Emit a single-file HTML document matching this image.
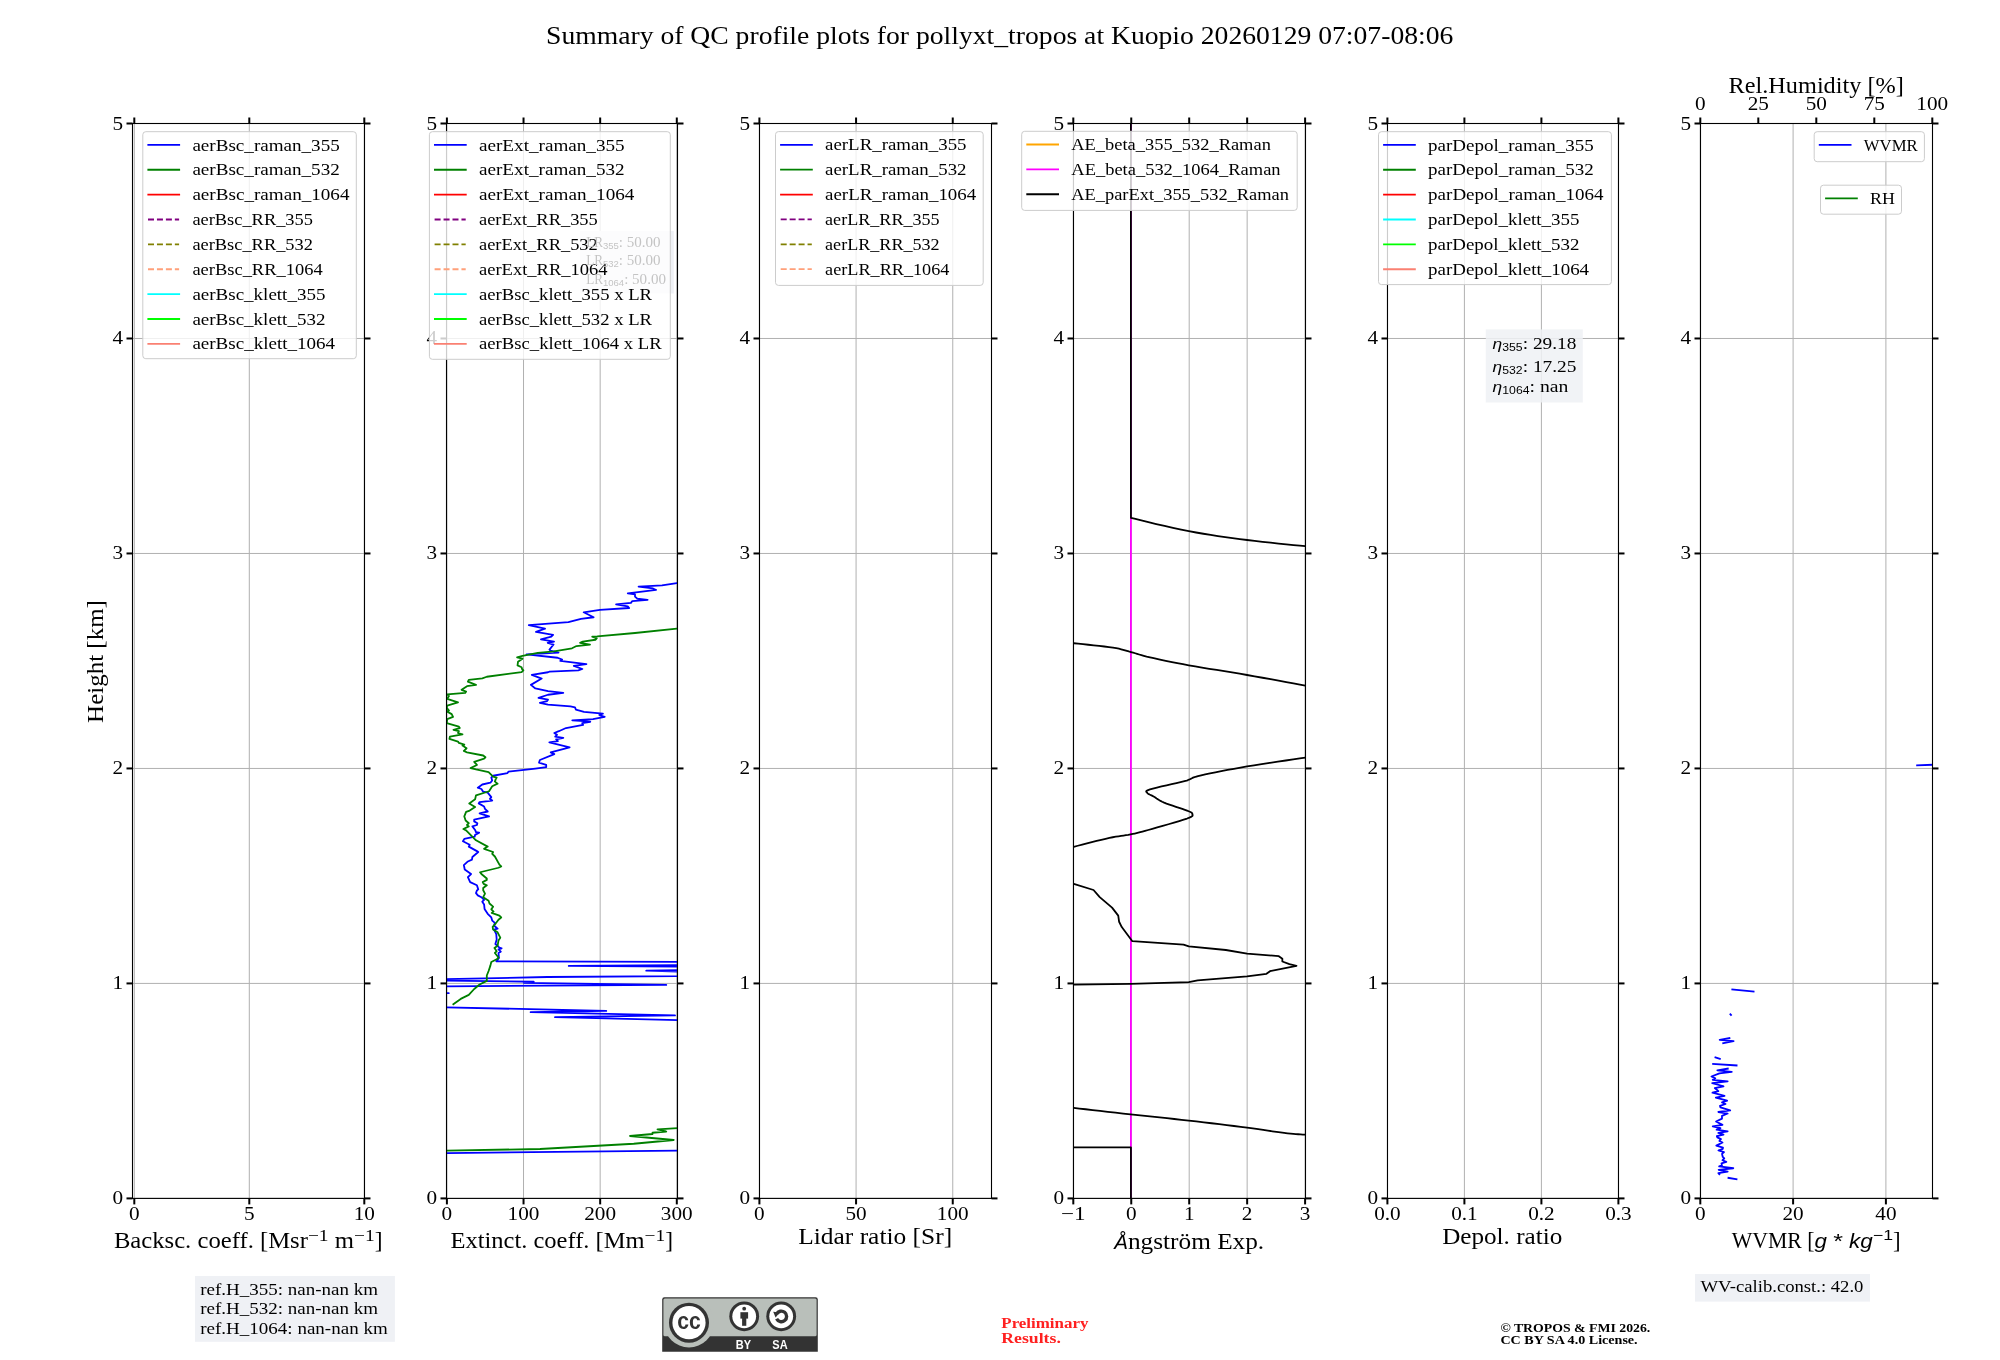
<!DOCTYPE html>
<html><head><meta charset="utf-8"><title>QC profile summary</title><style>html,body{margin:0;padding:0;background:#fff;width:2000px;height:1360px;overflow:hidden}svg{display:block;will-change:transform}</style></head><body>
<svg width="2000" height="1360" viewBox="0 0 2000 1360">
<rect x="0" y="0" width="2000" height="1360" fill="#fff"/>
<defs>
<clipPath id="c0"><rect x="132.50" y="123.50" width="232.00" height="1074.90"/></clipPath>
<clipPath id="c1"><rect x="446.50" y="123.50" width="231.00" height="1074.90"/></clipPath>
<clipPath id="c2"><rect x="759.50" y="123.50" width="232.00" height="1074.90"/></clipPath>
<clipPath id="c3"><rect x="1073.50" y="123.50" width="232.00" height="1074.90"/></clipPath>
<clipPath id="c4"><rect x="1387.50" y="123.50" width="231.00" height="1074.90"/></clipPath>
<clipPath id="c5"><rect x="1700.50" y="123.50" width="232.00" height="1074.90"/></clipPath>
</defs>
<text x="999.70" y="44.00" text-anchor="middle" font-family='"Liberation Serif", serif' font-size="24.89" textLength="907.34" lengthAdjust="spacingAndGlyphs" fill="#000" style="" >Summary of QC profile plots for pollyxt_tropos at Kuopio 20260129 07:07-08:06</text>
<line x1="134.30" y1="123.50" x2="134.30" y2="1198.40" stroke="#b0b0b0" stroke-width="1.0" />
<line x1="249.30" y1="123.50" x2="249.30" y2="1198.40" stroke="#b0b0b0" stroke-width="1.0" />
<line x1="364.30" y1="123.50" x2="364.30" y2="1198.40" stroke="#b0b0b0" stroke-width="1.0" />
<line x1="132.50" y1="1198.40" x2="364.50" y2="1198.40" stroke="#b0b0b0" stroke-width="1.0" />
<line x1="132.50" y1="983.42" x2="364.50" y2="983.42" stroke="#b0b0b0" stroke-width="1.0" />
<line x1="132.50" y1="768.44" x2="364.50" y2="768.44" stroke="#b0b0b0" stroke-width="1.0" />
<line x1="132.50" y1="553.46" x2="364.50" y2="553.46" stroke="#b0b0b0" stroke-width="1.0" />
<line x1="132.50" y1="338.48" x2="364.50" y2="338.48" stroke="#b0b0b0" stroke-width="1.0" />
<line x1="132.50" y1="123.50" x2="364.50" y2="123.50" stroke="#b0b0b0" stroke-width="1.0" />
<line x1="446.90" y1="123.50" x2="446.90" y2="1198.40" stroke="#b0b0b0" stroke-width="1.0" />
<line x1="523.53" y1="123.50" x2="523.53" y2="1198.40" stroke="#b0b0b0" stroke-width="1.0" />
<line x1="600.17" y1="123.50" x2="600.17" y2="1198.40" stroke="#b0b0b0" stroke-width="1.0" />
<line x1="676.80" y1="123.50" x2="676.80" y2="1198.40" stroke="#b0b0b0" stroke-width="1.0" />
<line x1="446.50" y1="1198.40" x2="677.50" y2="1198.40" stroke="#b0b0b0" stroke-width="1.0" />
<line x1="446.50" y1="983.42" x2="677.50" y2="983.42" stroke="#b0b0b0" stroke-width="1.0" />
<line x1="446.50" y1="768.44" x2="677.50" y2="768.44" stroke="#b0b0b0" stroke-width="1.0" />
<line x1="446.50" y1="553.46" x2="677.50" y2="553.46" stroke="#b0b0b0" stroke-width="1.0" />
<line x1="446.50" y1="338.48" x2="677.50" y2="338.48" stroke="#b0b0b0" stroke-width="1.0" />
<line x1="446.50" y1="123.50" x2="677.50" y2="123.50" stroke="#b0b0b0" stroke-width="1.0" />
<line x1="759.40" y1="123.50" x2="759.40" y2="1198.40" stroke="#b0b0b0" stroke-width="1.0" />
<line x1="856.07" y1="123.50" x2="856.07" y2="1198.40" stroke="#b0b0b0" stroke-width="1.0" />
<line x1="952.75" y1="123.50" x2="952.75" y2="1198.40" stroke="#b0b0b0" stroke-width="1.0" />
<line x1="759.50" y1="1198.40" x2="991.50" y2="1198.40" stroke="#b0b0b0" stroke-width="1.0" />
<line x1="759.50" y1="983.42" x2="991.50" y2="983.42" stroke="#b0b0b0" stroke-width="1.0" />
<line x1="759.50" y1="768.44" x2="991.50" y2="768.44" stroke="#b0b0b0" stroke-width="1.0" />
<line x1="759.50" y1="553.46" x2="991.50" y2="553.46" stroke="#b0b0b0" stroke-width="1.0" />
<line x1="759.50" y1="338.48" x2="991.50" y2="338.48" stroke="#b0b0b0" stroke-width="1.0" />
<line x1="759.50" y1="123.50" x2="991.50" y2="123.50" stroke="#b0b0b0" stroke-width="1.0" />
<line x1="1073.30" y1="123.50" x2="1073.30" y2="1198.40" stroke="#b0b0b0" stroke-width="1.0" />
<line x1="1131.25" y1="123.50" x2="1131.25" y2="1198.40" stroke="#b0b0b0" stroke-width="1.0" />
<line x1="1189.20" y1="123.50" x2="1189.20" y2="1198.40" stroke="#b0b0b0" stroke-width="1.0" />
<line x1="1247.15" y1="123.50" x2="1247.15" y2="1198.40" stroke="#b0b0b0" stroke-width="1.0" />
<line x1="1305.10" y1="123.50" x2="1305.10" y2="1198.40" stroke="#b0b0b0" stroke-width="1.0" />
<line x1="1073.50" y1="1198.40" x2="1305.50" y2="1198.40" stroke="#b0b0b0" stroke-width="1.0" />
<line x1="1073.50" y1="983.42" x2="1305.50" y2="983.42" stroke="#b0b0b0" stroke-width="1.0" />
<line x1="1073.50" y1="768.44" x2="1305.50" y2="768.44" stroke="#b0b0b0" stroke-width="1.0" />
<line x1="1073.50" y1="553.46" x2="1305.50" y2="553.46" stroke="#b0b0b0" stroke-width="1.0" />
<line x1="1073.50" y1="338.48" x2="1305.50" y2="338.48" stroke="#b0b0b0" stroke-width="1.0" />
<line x1="1073.50" y1="123.50" x2="1305.50" y2="123.50" stroke="#b0b0b0" stroke-width="1.0" />
<line x1="1387.40" y1="123.50" x2="1387.40" y2="1198.40" stroke="#b0b0b0" stroke-width="1.0" />
<line x1="1464.40" y1="123.50" x2="1464.40" y2="1198.40" stroke="#b0b0b0" stroke-width="1.0" />
<line x1="1541.40" y1="123.50" x2="1541.40" y2="1198.40" stroke="#b0b0b0" stroke-width="1.0" />
<line x1="1618.40" y1="123.50" x2="1618.40" y2="1198.40" stroke="#b0b0b0" stroke-width="1.0" />
<line x1="1387.50" y1="1198.40" x2="1618.50" y2="1198.40" stroke="#b0b0b0" stroke-width="1.0" />
<line x1="1387.50" y1="983.42" x2="1618.50" y2="983.42" stroke="#b0b0b0" stroke-width="1.0" />
<line x1="1387.50" y1="768.44" x2="1618.50" y2="768.44" stroke="#b0b0b0" stroke-width="1.0" />
<line x1="1387.50" y1="553.46" x2="1618.50" y2="553.46" stroke="#b0b0b0" stroke-width="1.0" />
<line x1="1387.50" y1="338.48" x2="1618.50" y2="338.48" stroke="#b0b0b0" stroke-width="1.0" />
<line x1="1387.50" y1="123.50" x2="1618.50" y2="123.50" stroke="#b0b0b0" stroke-width="1.0" />
<line x1="1700.30" y1="123.50" x2="1700.30" y2="1198.40" stroke="#b0b0b0" stroke-width="1.0" />
<line x1="1793.10" y1="123.50" x2="1793.10" y2="1198.40" stroke="#b0b0b0" stroke-width="1.0" />
<line x1="1885.90" y1="123.50" x2="1885.90" y2="1198.40" stroke="#b0b0b0" stroke-width="1.0" />
<line x1="1700.50" y1="1198.40" x2="1932.50" y2="1198.40" stroke="#b0b0b0" stroke-width="1.0" />
<line x1="1700.50" y1="983.42" x2="1932.50" y2="983.42" stroke="#b0b0b0" stroke-width="1.0" />
<line x1="1700.50" y1="768.44" x2="1932.50" y2="768.44" stroke="#b0b0b0" stroke-width="1.0" />
<line x1="1700.50" y1="553.46" x2="1932.50" y2="553.46" stroke="#b0b0b0" stroke-width="1.0" />
<line x1="1700.50" y1="338.48" x2="1932.50" y2="338.48" stroke="#b0b0b0" stroke-width="1.0" />
<line x1="1700.50" y1="123.50" x2="1932.50" y2="123.50" stroke="#b0b0b0" stroke-width="1.0" />
<!--DATA-->
<g clip-path="url(#c1)">
<polyline points="707.00,580.80 676.85,583.05 662.00,585.30 638.60,586.65 653.00,588.45 656.15,589.98 627.80,593.40 635.00,594.30 635.00,596.55 637.25,598.62 647.60,599.88 632.30,601.05 630.95,602.85 616.10,604.38 627.80,606.45 629.15,607.98 599.90,609.78 583.70,612.30 593.60,617.25 581.00,618.87 568.40,622.20 528.80,625.08 545.00,628.68 536.00,631.92 553.10,634.80 551.30,636.60 540.95,639.30 554.00,641.55 547.70,642.90 553.55,644.52 549.50,649.65 550.40,650.55 558.50,652.62 526.55,654.42 557.60,657.75 562.10,659.55 560.30,660.90 586.40,664.05 573.80,665.85 582.35,669.00 578.30,670.35 549.50,671.70 548.00,672.25 531.80,674.95 541.70,678.55 530.90,684.85 535.40,688.45 548.00,691.15 563.30,692.95 548.00,694.75 538.55,697.90 548.00,699.70 547.10,701.05 539.90,702.85 548.00,704.65 570.50,706.45 575.00,707.35 575.90,709.60 584.00,711.85 602.90,713.65 599.30,715.00 604.70,716.80 593.00,719.05 572.30,720.40 584.00,721.12 590.30,721.75 582.20,723.10 583.10,724.90 566.00,728.05 558.80,731.20 554.30,733.00 557.00,734.80 555.20,736.60 563.30,737.95 556.10,739.30 557.90,741.10 549.35,742.45 569.60,747.40 550.70,752.35 554.30,754.15 539.90,760.00 539.00,762.70 546.20,764.95 546.20,767.20 535.40,768.55 508.40,771.70 507.50,773.05 493.10,775.75 491.30,777.55 492.20,780.45 490.40,782.70 482.30,784.50 477.80,787.65 481.40,789.00 483.20,791.70 487.70,792.60 491.30,797.10 489.95,798.90 492.20,800.52 479.60,802.05 478.70,803.40 484.10,806.55 485.00,808.80 487.70,811.50 479.60,813.30 489.05,816.45 474.20,819.60 474.20,821.40 477.35,823.20 476.90,825.00 472.40,826.35 475.10,829.95 476.00,832.20 479.15,832.65 475.10,834.90 474.65,836.70 464.30,838.95 462.95,841.20 469.70,844.80 468.80,846.60 476.90,851.10 478.25,852.00 472.40,856.95 471.95,859.65 467.90,861.45 463.85,865.05 464.75,869.55 471.05,874.05 467.90,877.20 470.15,882.15 476.90,885.30 478.25,889.35 476.90,890.45 476.00,893.15 477.80,895.40 481.40,897.20 484.10,899.90 482.30,901.70 484.10,904.40 484.55,908.90 487.70,913.85 491.30,917.45 492.20,920.60 494.90,922.85 494.00,925.55 497.60,928.70 494.00,929.60 496.25,934.10 496.70,939.50 495.35,944.00 499.40,947.60 501.65,948.32 498.50,949.40 500.75,951.65 498.50,953.00 498.95,957.95 496.70,961.10 496.25,961.25 702.50,961.88 702.50,965.00 568.75,965.88 702.50,966.88 702.50,970.00 646.25,970.62 702.50,972.50 702.50,975.38 677.50,976.12 547.50,977.00 427.50,979.62 427.50,980.50 533.75,981.75 523.75,982.88 666.25,984.88 427.50,986.50 427.50,992.50 448.75,993.12 427.50,993.75 427.50,1006.88 606.25,1010.88 530.62,1012.12 675.00,1015.38 555.00,1017.12 702.50,1020.62" fill="none" stroke="#0000ff" stroke-width="1.8" stroke-linejoin="round" stroke-linecap="butt" />
<polyline points="702.50,1150.38 677.50,1150.62 446.88,1153.12 427.50,1153.25" fill="none" stroke="#0000ff" stroke-width="1.8" stroke-linejoin="round" stroke-linecap="butt" />
<polyline points="707.00,626.70 676.85,628.68 635.00,633.00 597.20,636.42 592.25,636.60 596.75,638.40 595.40,639.75 582.80,641.55 580.10,642.90 590.00,644.70 576.50,646.05 572.00,648.30 554.00,651.45 537.80,652.80 522.50,655.95 517.10,657.30 522.50,658.65 518.00,661.80 517.55,665.40 521.60,667.20 522.05,669.00 523.40,670.35 521.60,672.15 486.80,676.75 482.30,678.28 468.80,679.90 467.90,681.70 476.00,684.85 467.00,686.20 461.60,689.80 466.10,691.60 465.20,692.95 447.20,694.30 449.00,696.10 447.20,698.80 458.00,702.40 447.20,705.55 446.75,707.80 449.00,710.50 446.75,711.40 451.70,714.10 453.05,716.80 447.20,719.05 446.75,723.10 458.90,726.70 459.80,728.05 453.50,729.85 458.90,731.20 458.00,733.00 462.50,734.35 449.90,736.60 449.45,738.85 458.00,741.55 458.90,742.90 464.30,744.70 462.50,745.60 466.55,748.30 463.85,751.00 467.00,752.35 483.20,755.50 485.45,757.30 484.10,758.65 474.20,761.80 476.90,764.95 470.60,768.10 476.00,769.45 488.60,772.15 493.10,776.65 496.70,777.55 495.80,778.90 494.90,781.60 497.60,783.60 492.20,786.30 489.05,791.25 476.00,795.30 475.10,799.35 469.25,803.40 475.10,807.00 469.70,810.60 466.10,811.95 464.30,816.45 465.65,820.50 468.80,823.20 467.00,825.00 468.80,826.35 463.40,829.05 466.10,830.40 476.00,840.30 487.70,846.60 484.10,848.85 493.10,852.00 492.20,853.80 494.90,856.50 499.40,864.60 501.20,866.40 498.50,867.75 480.05,872.25 481.40,874.05 486.80,878.55 486.80,879.90 482.75,882.15 483.65,883.95 486.80,885.30 483.20,888.00 483.20,890.25 485.00,893.60 483.20,897.20 488.60,900.80 489.50,903.50 493.10,906.65 491.30,909.35 493.55,911.60 491.75,912.95 499.40,915.65 501.20,917.45 498.50,919.70 495.80,923.30 492.65,926.90 493.10,929.60 497.60,932.30 500.30,937.70 498.50,940.40 497.60,945.80 494.45,948.05 496.70,951.20 494.90,953.00 498.50,957.50 496.70,959.30 491.30,962.00 490.40,965.60 488.60,971.00 486.80,975.50 486.80,980.90 479.60,984.50 474.20,989.00 468.80,994.85 460.70,998.90 452.60,1004.75" fill="none" stroke="#008000" stroke-width="1.8" stroke-linejoin="round" stroke-linecap="butt" />
<polyline points="702.50,1127.88 677.50,1128.12 657.50,1129.38 666.25,1131.50 652.50,1132.75 652.50,1134.00 630.00,1136.00 673.75,1140.00 633.75,1143.75 540.00,1149.00 446.88,1150.62 427.50,1150.75" fill="none" stroke="#008000" stroke-width="1.8" stroke-linejoin="round" stroke-linecap="butt" />
</g>
<g clip-path="url(#c3)">
<line x1="1130.90" y1="123.50" x2="1130.90" y2="1198.40" stroke="#ff00ff" stroke-width="1.8" />
<polyline points="1130.90,100.00 1130.94,517.94 1135.40,518.99 1141.33,520.42 1148.39,522.13 1156.24,524.01 1164.55,525.95 1172.97,527.87 1181.18,529.64 1188.82,531.18 1196.09,532.51 1203.36,533.75 1210.64,534.92 1217.92,536.03 1225.21,537.08 1232.49,538.08 1239.78,539.05 1247.06,540.00 1254.60,540.93 1262.53,541.84 1270.60,542.72 1278.60,543.55 1286.30,544.33 1293.47,545.03 1299.87,545.65 1305.29,546.18 1309.71,546.59 1313.33,546.90 1316.27,547.12 1318.64,547.27 1320.55,547.37 1322.13,547.45 1323.47,547.51 1324.71,547.59" fill="none" stroke="#000000" stroke-width="1.8" stroke-linejoin="round" stroke-linecap="butt" />
<polyline points="1049.41,640.94 1051.19,641.10 1053.44,641.30 1056.11,641.54 1059.14,641.81 1062.48,642.12 1066.06,642.46 1069.84,642.83 1073.76,643.24 1078.10,643.69 1083.01,644.19 1088.30,644.73 1093.75,645.31 1099.15,645.90 1104.29,646.49 1108.96,647.08 1112.94,647.65 1116.20,648.19 1118.91,648.73 1121.20,649.26 1123.20,649.80 1125.04,650.34 1126.86,650.89 1128.79,651.47 1130.94,652.06 1133.14,652.66 1135.17,653.26 1137.14,653.86 1139.17,654.49 1141.36,655.13 1143.82,655.82 1146.66,656.56 1150.00,657.35 1153.77,658.21 1157.86,659.11 1162.26,660.06 1166.96,661.05 1171.97,662.07 1177.29,663.12 1182.91,664.20 1188.82,665.29 1195.17,666.42 1202.02,667.58 1209.24,668.77 1216.73,669.98 1224.37,671.22 1232.05,672.47 1239.65,673.73 1247.06,675.00 1254.60,676.33 1262.53,677.75 1270.60,679.22 1278.60,680.68 1286.30,682.10 1293.47,683.42 1299.87,684.60 1305.29,685.59 1309.71,686.39 1313.33,687.05 1316.27,687.58 1318.64,688.01 1320.55,688.36 1322.13,688.65 1323.47,688.89 1324.71,689.12" fill="none" stroke="#000000" stroke-width="1.8" stroke-linejoin="round" stroke-linecap="butt" />
<polyline points="1324.71,755.00 1323.47,755.16 1322.13,755.33 1320.55,755.53 1318.64,755.77 1316.27,756.09 1313.33,756.49 1309.71,757.00 1305.29,757.65 1299.79,758.45 1293.18,759.42 1285.76,760.50 1277.83,761.67 1269.70,762.89 1261.66,764.12 1254.01,765.33 1247.06,766.47 1240.50,767.60 1233.93,768.78 1227.47,769.97 1221.25,771.16 1215.38,772.31 1210.00,773.40 1205.22,774.40 1201.18,775.29 1197.98,776.07 1195.57,776.77 1193.78,777.39 1192.46,777.94 1191.47,778.44 1190.63,778.89 1189.80,779.31 1188.82,779.71 1188.02,780.01 1187.67,780.19 1187.56,780.29 1187.50,780.37 1187.27,780.47 1186.67,780.66 1185.49,780.97 1183.53,781.47 1180.48,782.20 1176.41,783.13 1171.67,784.19 1166.60,785.33 1161.55,786.49 1156.87,787.59 1152.91,788.59 1150.00,789.41 1148.13,790.06 1146.96,790.60 1146.36,791.06 1146.19,791.45 1146.34,791.81 1146.67,792.16 1147.05,792.53 1147.35,792.94 1147.67,793.36 1148.17,793.76 1148.83,794.15 1149.61,794.54 1150.50,794.95 1151.47,795.40 1152.49,795.90 1153.53,796.47 1154.56,797.10 1155.58,797.79 1156.63,798.52 1157.78,799.28 1159.05,800.09 1160.50,800.92 1162.17,801.77 1164.12,802.65 1166.51,803.59 1169.40,804.61 1172.59,805.69 1175.92,806.78 1179.21,807.86 1182.27,808.87 1184.95,809.79 1187.06,810.59 1188.64,811.23 1189.87,811.76 1190.80,812.20 1191.47,812.57 1191.92,812.92 1192.19,813.28 1192.32,813.66 1192.35,814.12 1192.43,814.58 1192.56,814.99 1192.62,815.40 1192.46,815.83 1191.97,816.32 1190.99,816.91 1189.40,817.63 1187.06,818.53 1183.67,819.67 1179.21,821.07 1174.03,822.62 1168.42,824.26 1162.72,825.91 1157.24,827.46 1152.30,828.86 1148.24,830.00 1145.04,830.90 1142.42,831.62 1140.22,832.21 1138.31,832.70 1136.53,833.13 1134.75,833.54 1132.82,833.95 1130.59,834.41 1128.21,834.86 1125.88,835.23 1123.54,835.57 1121.12,835.90 1118.57,836.27 1115.81,836.71 1112.78,837.25 1109.41,837.94 1105.57,838.81 1101.25,839.84 1096.61,840.98 1091.79,842.19 1086.94,843.42 1082.22,844.62 1077.78,845.75 1073.76,846.76 1070.01,847.71 1066.31,848.64 1062.73,849.55 1059.36,850.40 1056.26,851.19 1053.52,851.89 1051.21,852.48 1049.41,852.94" fill="none" stroke="#000000" stroke-width="1.8" stroke-linejoin="round" stroke-linecap="butt" />
<polyline points="1049.41,877.65 1073.76,883.82 1093.53,890.00 1099.71,897.06 1112.06,907.65 1118.24,915.59 1119.12,921.76 1121.76,927.06 1132.35,941.18 1183.53,944.71 1188.82,946.47 1225.88,950.00 1247.06,953.53 1278.82,956.18 1282.35,958.82 1282.35,961.47 1289.41,964.12 1296.47,965.88 1270.00,971.18 1266.47,973.82 1247.06,976.47 1197.65,980.29 1188.82,982.06 1130.59,983.82 1073.76,984.71 1049.41,985.06" fill="none" stroke="#000000" stroke-width="1.8" stroke-linejoin="round" stroke-linecap="butt" />
<polyline points="1049.41,1105.06 1051.07,1105.25 1053.03,1105.48 1055.33,1105.75 1058.04,1106.06 1061.18,1106.43 1064.82,1106.85 1069.00,1107.33 1073.76,1107.88 1079.30,1108.52 1085.65,1109.26 1092.63,1110.07 1100.06,1110.94 1107.75,1111.83 1115.52,1112.72 1123.20,1113.59 1130.59,1114.41 1137.80,1115.19 1145.05,1115.96 1152.32,1116.72 1159.62,1117.47 1166.92,1118.22 1174.23,1118.99 1181.53,1119.78 1188.82,1120.59 1196.25,1121.44 1203.88,1122.33 1211.59,1123.25 1219.26,1124.17 1226.77,1125.09 1233.99,1125.99 1240.79,1126.84 1247.06,1127.65 1252.81,1128.42 1258.18,1129.18 1263.20,1129.92 1267.90,1130.62 1272.31,1131.29 1276.47,1131.91 1280.39,1132.46 1284.12,1132.94 1287.54,1133.33 1290.57,1133.64 1293.30,1133.88 1295.81,1134.07 1298.18,1134.23 1300.50,1134.37 1302.84,1134.53 1305.29,1134.71 1307.94,1134.91 1310.73,1135.12 1313.56,1135.32 1316.32,1135.52 1318.93,1135.71 1321.26,1135.87 1323.22,1136.01 1324.71,1136.12" fill="none" stroke="#000000" stroke-width="1.8" stroke-linejoin="round" stroke-linecap="butt" />
<polyline points="1049.41,1147.41 1130.94,1147.41 1130.94,1207.06" fill="none" stroke="#000000" stroke-width="1.8" stroke-linejoin="round" stroke-linecap="butt" />
</g>
<g clip-path="url(#c5)">
<polyline points="1731.40,989.40 1754.50,991.60" fill="none" stroke="#0000ff" stroke-width="1.8" stroke-linejoin="round" stroke-linecap="butt" />
<polyline points="1729.80,1013.60 1731.60,1015.70" fill="none" stroke="#0000ff" stroke-width="1.8" stroke-linejoin="round" stroke-linecap="butt" />
<polyline points="1730.30,1038.00 1719.70,1039.90 1733.60,1041.20 1722.30,1043.30" fill="none" stroke="#0000ff" stroke-width="1.8" stroke-linejoin="round" stroke-linecap="butt" />
<polyline points="1714.60,1057.20 1720.70,1059.20" fill="none" stroke="#0000ff" stroke-width="1.8" stroke-linejoin="round" stroke-linecap="butt" />
<polyline points="1712.20,1063.90 1737.50,1065.50" fill="none" stroke="#0000ff" stroke-width="1.8" stroke-linejoin="round" stroke-linecap="butt" />
<polyline points="1728.68,1068.49 1717.35,1070.29 1731.76,1071.84 1719.41,1073.38 1711.43,1076.47 1715.29,1078.27 1712.72,1079.82 1727.65,1081.36 1712.21,1083.16 1723.53,1086.25 1714.78,1088.05 1718.38,1091.14 1712.46,1092.68 1724.56,1095.77 1715.81,1097.57 1727.13,1100.66 1721.99,1102.46 1725.59,1104.01 1719.93,1105.81 1720.44,1107.35 1730.22,1110.44 1718.38,1111.99 1727.65,1113.53 1721.99,1115.85 1721.99,1118.68 1716.07,1121.51 1722.50,1124.85 1712.72,1126.40 1720.44,1128.20 1719.93,1128.60 1716.58,1129.63 1727.65,1131.43 1718.38,1132.98 1723.53,1134.52 1716.84,1136.07 1717.35,1137.35 1720.96,1139.15 1719.41,1140.96 1722.50,1142.50 1716.32,1145.59 1723.01,1147.65 1722.76,1148.93 1718.38,1150.48 1724.04,1152.02 1721.99,1153.82 1722.76,1156.91 1724.30,1158.46 1722.50,1160.26 1726.36,1161.80 1721.47,1163.35 1721.99,1165.40 1719.15,1166.43 1733.31,1168.24 1718.64,1169.78 1727.65,1171.58 1718.38,1173.12 1719.93,1174.93" fill="none" stroke="#0000ff" stroke-width="1.8" stroke-linejoin="round" stroke-linecap="butt" />
<polyline points="1727.60,1177.75 1737.40,1179.30" fill="none" stroke="#0000ff" stroke-width="1.8" stroke-linejoin="round" stroke-linecap="butt" />
<polyline points="1916.20,765.30 1940.00,764.50" fill="none" stroke="#0000ff" stroke-width="1.8" stroke-linejoin="round" stroke-linecap="butt" />
</g>
<rect x="132.50" y="123.50" width="232.00" height="1074.90" fill="none" stroke="#000" stroke-width="1.1"/>
<line x1="126.50" y1="1198.40" x2="132.50" y2="1198.40" stroke="#000" stroke-width="2.0" />
<line x1="364.50" y1="1198.40" x2="370.50" y2="1198.40" stroke="#000" stroke-width="2.0" />
<line x1="126.50" y1="983.42" x2="132.50" y2="983.42" stroke="#000" stroke-width="2.0" />
<line x1="364.50" y1="983.42" x2="370.50" y2="983.42" stroke="#000" stroke-width="2.0" />
<line x1="126.50" y1="768.44" x2="132.50" y2="768.44" stroke="#000" stroke-width="2.0" />
<line x1="364.50" y1="768.44" x2="370.50" y2="768.44" stroke="#000" stroke-width="2.0" />
<line x1="126.50" y1="553.46" x2="132.50" y2="553.46" stroke="#000" stroke-width="2.0" />
<line x1="364.50" y1="553.46" x2="370.50" y2="553.46" stroke="#000" stroke-width="2.0" />
<line x1="126.50" y1="338.48" x2="132.50" y2="338.48" stroke="#000" stroke-width="2.0" />
<line x1="364.50" y1="338.48" x2="370.50" y2="338.48" stroke="#000" stroke-width="2.0" />
<line x1="126.50" y1="123.50" x2="132.50" y2="123.50" stroke="#000" stroke-width="2.0" />
<line x1="364.50" y1="123.50" x2="370.50" y2="123.50" stroke="#000" stroke-width="2.0" />
<line x1="134.30" y1="1198.40" x2="134.30" y2="1204.40" stroke="#000" stroke-width="2.0" />
<line x1="134.30" y1="117.50" x2="134.30" y2="123.50" stroke="#000" stroke-width="2.0" />
<line x1="249.30" y1="1198.40" x2="249.30" y2="1204.40" stroke="#000" stroke-width="2.0" />
<line x1="249.30" y1="117.50" x2="249.30" y2="123.50" stroke="#000" stroke-width="2.0" />
<line x1="364.30" y1="1198.40" x2="364.30" y2="1204.40" stroke="#000" stroke-width="2.0" />
<line x1="364.30" y1="117.50" x2="364.30" y2="123.50" stroke="#000" stroke-width="2.0" />
<text x="123.20" y="1204.40" text-anchor="end" font-family='"Liberation Serif", serif' font-size="18.67" textLength="10.61" lengthAdjust="spacingAndGlyphs" fill="#000" style="" >0</text>
<text x="123.20" y="989.42" text-anchor="end" font-family='"Liberation Serif", serif' font-size="18.67" textLength="10.61" lengthAdjust="spacingAndGlyphs" fill="#000" style="" >1</text>
<text x="123.20" y="774.44" text-anchor="end" font-family='"Liberation Serif", serif' font-size="18.67" textLength="10.61" lengthAdjust="spacingAndGlyphs" fill="#000" style="" >2</text>
<text x="123.20" y="559.46" text-anchor="end" font-family='"Liberation Serif", serif' font-size="18.67" textLength="10.61" lengthAdjust="spacingAndGlyphs" fill="#000" style="" >3</text>
<text x="123.20" y="344.48" text-anchor="end" font-family='"Liberation Serif", serif' font-size="18.67" textLength="10.61" lengthAdjust="spacingAndGlyphs" fill="#000" style="" >4</text>
<text x="123.20" y="129.50" text-anchor="end" font-family='"Liberation Serif", serif' font-size="18.67" textLength="10.61" lengthAdjust="spacingAndGlyphs" fill="#000" style="" >5</text>
<text x="134.30" y="1219.60" text-anchor="middle" font-family='"Liberation Serif", serif' font-size="18.67" textLength="10.61" lengthAdjust="spacingAndGlyphs" fill="#000" style="" >0</text>
<text x="249.30" y="1219.60" text-anchor="middle" font-family='"Liberation Serif", serif' font-size="18.67" textLength="10.61" lengthAdjust="spacingAndGlyphs" fill="#000" style="" >5</text>
<text x="364.30" y="1219.60" text-anchor="middle" font-family='"Liberation Serif", serif' font-size="18.67" textLength="21.21" lengthAdjust="spacingAndGlyphs" fill="#000" style="" >10</text>
<rect x="446.50" y="123.50" width="231.00" height="1074.90" fill="none" stroke="#000" stroke-width="1.1"/>
<line x1="440.50" y1="1198.40" x2="446.50" y2="1198.40" stroke="#000" stroke-width="2.0" />
<line x1="677.50" y1="1198.40" x2="683.50" y2="1198.40" stroke="#000" stroke-width="2.0" />
<line x1="440.50" y1="983.42" x2="446.50" y2="983.42" stroke="#000" stroke-width="2.0" />
<line x1="677.50" y1="983.42" x2="683.50" y2="983.42" stroke="#000" stroke-width="2.0" />
<line x1="440.50" y1="768.44" x2="446.50" y2="768.44" stroke="#000" stroke-width="2.0" />
<line x1="677.50" y1="768.44" x2="683.50" y2="768.44" stroke="#000" stroke-width="2.0" />
<line x1="440.50" y1="553.46" x2="446.50" y2="553.46" stroke="#000" stroke-width="2.0" />
<line x1="677.50" y1="553.46" x2="683.50" y2="553.46" stroke="#000" stroke-width="2.0" />
<line x1="440.50" y1="338.48" x2="446.50" y2="338.48" stroke="#000" stroke-width="2.0" />
<line x1="677.50" y1="338.48" x2="683.50" y2="338.48" stroke="#000" stroke-width="2.0" />
<line x1="440.50" y1="123.50" x2="446.50" y2="123.50" stroke="#000" stroke-width="2.0" />
<line x1="677.50" y1="123.50" x2="683.50" y2="123.50" stroke="#000" stroke-width="2.0" />
<line x1="446.90" y1="1198.40" x2="446.90" y2="1204.40" stroke="#000" stroke-width="2.0" />
<line x1="446.90" y1="117.50" x2="446.90" y2="123.50" stroke="#000" stroke-width="2.0" />
<line x1="523.53" y1="1198.40" x2="523.53" y2="1204.40" stroke="#000" stroke-width="2.0" />
<line x1="523.53" y1="117.50" x2="523.53" y2="123.50" stroke="#000" stroke-width="2.0" />
<line x1="600.17" y1="1198.40" x2="600.17" y2="1204.40" stroke="#000" stroke-width="2.0" />
<line x1="600.17" y1="117.50" x2="600.17" y2="123.50" stroke="#000" stroke-width="2.0" />
<line x1="676.80" y1="1198.40" x2="676.80" y2="1204.40" stroke="#000" stroke-width="2.0" />
<line x1="676.80" y1="117.50" x2="676.80" y2="123.50" stroke="#000" stroke-width="2.0" />
<text x="437.20" y="1204.40" text-anchor="end" font-family='"Liberation Serif", serif' font-size="18.67" textLength="10.61" lengthAdjust="spacingAndGlyphs" fill="#000" style="" >0</text>
<text x="437.20" y="989.42" text-anchor="end" font-family='"Liberation Serif", serif' font-size="18.67" textLength="10.61" lengthAdjust="spacingAndGlyphs" fill="#000" style="" >1</text>
<text x="437.20" y="774.44" text-anchor="end" font-family='"Liberation Serif", serif' font-size="18.67" textLength="10.61" lengthAdjust="spacingAndGlyphs" fill="#000" style="" >2</text>
<text x="437.20" y="559.46" text-anchor="end" font-family='"Liberation Serif", serif' font-size="18.67" textLength="10.61" lengthAdjust="spacingAndGlyphs" fill="#000" style="" >3</text>
<text x="437.20" y="344.48" text-anchor="end" font-family='"Liberation Serif", serif' font-size="18.67" textLength="10.61" lengthAdjust="spacingAndGlyphs" fill="#000" style="" >4</text>
<text x="437.20" y="129.50" text-anchor="end" font-family='"Liberation Serif", serif' font-size="18.67" textLength="10.61" lengthAdjust="spacingAndGlyphs" fill="#000" style="" >5</text>
<text x="446.90" y="1219.60" text-anchor="middle" font-family='"Liberation Serif", serif' font-size="18.67" textLength="10.61" lengthAdjust="spacingAndGlyphs" fill="#000" style="" >0</text>
<text x="523.53" y="1219.60" text-anchor="middle" font-family='"Liberation Serif", serif' font-size="18.67" textLength="31.82" lengthAdjust="spacingAndGlyphs" fill="#000" style="" >100</text>
<text x="600.17" y="1219.60" text-anchor="middle" font-family='"Liberation Serif", serif' font-size="18.67" textLength="31.82" lengthAdjust="spacingAndGlyphs" fill="#000" style="" >200</text>
<text x="676.80" y="1219.60" text-anchor="middle" font-family='"Liberation Serif", serif' font-size="18.67" textLength="31.82" lengthAdjust="spacingAndGlyphs" fill="#000" style="" >300</text>
<rect x="759.50" y="123.50" width="232.00" height="1074.90" fill="none" stroke="#000" stroke-width="1.1"/>
<line x1="753.50" y1="1198.40" x2="759.50" y2="1198.40" stroke="#000" stroke-width="2.0" />
<line x1="991.50" y1="1198.40" x2="997.50" y2="1198.40" stroke="#000" stroke-width="2.0" />
<line x1="753.50" y1="983.42" x2="759.50" y2="983.42" stroke="#000" stroke-width="2.0" />
<line x1="991.50" y1="983.42" x2="997.50" y2="983.42" stroke="#000" stroke-width="2.0" />
<line x1="753.50" y1="768.44" x2="759.50" y2="768.44" stroke="#000" stroke-width="2.0" />
<line x1="991.50" y1="768.44" x2="997.50" y2="768.44" stroke="#000" stroke-width="2.0" />
<line x1="753.50" y1="553.46" x2="759.50" y2="553.46" stroke="#000" stroke-width="2.0" />
<line x1="991.50" y1="553.46" x2="997.50" y2="553.46" stroke="#000" stroke-width="2.0" />
<line x1="753.50" y1="338.48" x2="759.50" y2="338.48" stroke="#000" stroke-width="2.0" />
<line x1="991.50" y1="338.48" x2="997.50" y2="338.48" stroke="#000" stroke-width="2.0" />
<line x1="753.50" y1="123.50" x2="759.50" y2="123.50" stroke="#000" stroke-width="2.0" />
<line x1="991.50" y1="123.50" x2="997.50" y2="123.50" stroke="#000" stroke-width="2.0" />
<line x1="759.40" y1="1198.40" x2="759.40" y2="1204.40" stroke="#000" stroke-width="2.0" />
<line x1="759.40" y1="117.50" x2="759.40" y2="123.50" stroke="#000" stroke-width="2.0" />
<line x1="856.07" y1="1198.40" x2="856.07" y2="1204.40" stroke="#000" stroke-width="2.0" />
<line x1="856.07" y1="117.50" x2="856.07" y2="123.50" stroke="#000" stroke-width="2.0" />
<line x1="952.75" y1="1198.40" x2="952.75" y2="1204.40" stroke="#000" stroke-width="2.0" />
<line x1="952.75" y1="117.50" x2="952.75" y2="123.50" stroke="#000" stroke-width="2.0" />
<text x="750.20" y="1204.40" text-anchor="end" font-family='"Liberation Serif", serif' font-size="18.67" textLength="10.61" lengthAdjust="spacingAndGlyphs" fill="#000" style="" >0</text>
<text x="750.20" y="989.42" text-anchor="end" font-family='"Liberation Serif", serif' font-size="18.67" textLength="10.61" lengthAdjust="spacingAndGlyphs" fill="#000" style="" >1</text>
<text x="750.20" y="774.44" text-anchor="end" font-family='"Liberation Serif", serif' font-size="18.67" textLength="10.61" lengthAdjust="spacingAndGlyphs" fill="#000" style="" >2</text>
<text x="750.20" y="559.46" text-anchor="end" font-family='"Liberation Serif", serif' font-size="18.67" textLength="10.61" lengthAdjust="spacingAndGlyphs" fill="#000" style="" >3</text>
<text x="750.20" y="344.48" text-anchor="end" font-family='"Liberation Serif", serif' font-size="18.67" textLength="10.61" lengthAdjust="spacingAndGlyphs" fill="#000" style="" >4</text>
<text x="750.20" y="129.50" text-anchor="end" font-family='"Liberation Serif", serif' font-size="18.67" textLength="10.61" lengthAdjust="spacingAndGlyphs" fill="#000" style="" >5</text>
<text x="759.40" y="1219.60" text-anchor="middle" font-family='"Liberation Serif", serif' font-size="18.67" textLength="10.61" lengthAdjust="spacingAndGlyphs" fill="#000" style="" >0</text>
<text x="856.07" y="1219.60" text-anchor="middle" font-family='"Liberation Serif", serif' font-size="18.67" textLength="21.21" lengthAdjust="spacingAndGlyphs" fill="#000" style="" >50</text>
<text x="952.75" y="1219.60" text-anchor="middle" font-family='"Liberation Serif", serif' font-size="18.67" textLength="31.82" lengthAdjust="spacingAndGlyphs" fill="#000" style="" >100</text>
<rect x="1073.50" y="123.50" width="232.00" height="1074.90" fill="none" stroke="#000" stroke-width="1.1"/>
<line x1="1067.50" y1="1198.40" x2="1073.50" y2="1198.40" stroke="#000" stroke-width="2.0" />
<line x1="1305.50" y1="1198.40" x2="1311.50" y2="1198.40" stroke="#000" stroke-width="2.0" />
<line x1="1067.50" y1="983.42" x2="1073.50" y2="983.42" stroke="#000" stroke-width="2.0" />
<line x1="1305.50" y1="983.42" x2="1311.50" y2="983.42" stroke="#000" stroke-width="2.0" />
<line x1="1067.50" y1="768.44" x2="1073.50" y2="768.44" stroke="#000" stroke-width="2.0" />
<line x1="1305.50" y1="768.44" x2="1311.50" y2="768.44" stroke="#000" stroke-width="2.0" />
<line x1="1067.50" y1="553.46" x2="1073.50" y2="553.46" stroke="#000" stroke-width="2.0" />
<line x1="1305.50" y1="553.46" x2="1311.50" y2="553.46" stroke="#000" stroke-width="2.0" />
<line x1="1067.50" y1="338.48" x2="1073.50" y2="338.48" stroke="#000" stroke-width="2.0" />
<line x1="1305.50" y1="338.48" x2="1311.50" y2="338.48" stroke="#000" stroke-width="2.0" />
<line x1="1067.50" y1="123.50" x2="1073.50" y2="123.50" stroke="#000" stroke-width="2.0" />
<line x1="1305.50" y1="123.50" x2="1311.50" y2="123.50" stroke="#000" stroke-width="2.0" />
<line x1="1073.30" y1="1198.40" x2="1073.30" y2="1204.40" stroke="#000" stroke-width="2.0" />
<line x1="1073.30" y1="117.50" x2="1073.30" y2="123.50" stroke="#000" stroke-width="2.0" />
<line x1="1131.25" y1="1198.40" x2="1131.25" y2="1204.40" stroke="#000" stroke-width="2.0" />
<line x1="1131.25" y1="117.50" x2="1131.25" y2="123.50" stroke="#000" stroke-width="2.0" />
<line x1="1189.20" y1="1198.40" x2="1189.20" y2="1204.40" stroke="#000" stroke-width="2.0" />
<line x1="1189.20" y1="117.50" x2="1189.20" y2="123.50" stroke="#000" stroke-width="2.0" />
<line x1="1247.15" y1="1198.40" x2="1247.15" y2="1204.40" stroke="#000" stroke-width="2.0" />
<line x1="1247.15" y1="117.50" x2="1247.15" y2="123.50" stroke="#000" stroke-width="2.0" />
<line x1="1305.10" y1="1198.40" x2="1305.10" y2="1204.40" stroke="#000" stroke-width="2.0" />
<line x1="1305.10" y1="117.50" x2="1305.10" y2="123.50" stroke="#000" stroke-width="2.0" />
<text x="1064.20" y="1204.40" text-anchor="end" font-family='"Liberation Serif", serif' font-size="18.67" textLength="10.61" lengthAdjust="spacingAndGlyphs" fill="#000" style="" >0</text>
<text x="1064.20" y="989.42" text-anchor="end" font-family='"Liberation Serif", serif' font-size="18.67" textLength="10.61" lengthAdjust="spacingAndGlyphs" fill="#000" style="" >1</text>
<text x="1064.20" y="774.44" text-anchor="end" font-family='"Liberation Serif", serif' font-size="18.67" textLength="10.61" lengthAdjust="spacingAndGlyphs" fill="#000" style="" >2</text>
<text x="1064.20" y="559.46" text-anchor="end" font-family='"Liberation Serif", serif' font-size="18.67" textLength="10.61" lengthAdjust="spacingAndGlyphs" fill="#000" style="" >3</text>
<text x="1064.20" y="344.48" text-anchor="end" font-family='"Liberation Serif", serif' font-size="18.67" textLength="10.61" lengthAdjust="spacingAndGlyphs" fill="#000" style="" >4</text>
<text x="1064.20" y="129.50" text-anchor="end" font-family='"Liberation Serif", serif' font-size="18.67" textLength="10.61" lengthAdjust="spacingAndGlyphs" fill="#000" style="" >5</text>
<text x="1073.30" y="1219.60" text-anchor="middle" font-family='"Liberation Serif", serif' font-size="18.67" textLength="24.57" lengthAdjust="spacingAndGlyphs" fill="#000" style="" >−1</text>
<text x="1131.25" y="1219.60" text-anchor="middle" font-family='"Liberation Serif", serif' font-size="18.67" textLength="10.61" lengthAdjust="spacingAndGlyphs" fill="#000" style="" >0</text>
<text x="1189.20" y="1219.60" text-anchor="middle" font-family='"Liberation Serif", serif' font-size="18.67" textLength="10.61" lengthAdjust="spacingAndGlyphs" fill="#000" style="" >1</text>
<text x="1247.15" y="1219.60" text-anchor="middle" font-family='"Liberation Serif", serif' font-size="18.67" textLength="10.61" lengthAdjust="spacingAndGlyphs" fill="#000" style="" >2</text>
<text x="1305.10" y="1219.60" text-anchor="middle" font-family='"Liberation Serif", serif' font-size="18.67" textLength="10.61" lengthAdjust="spacingAndGlyphs" fill="#000" style="" >3</text>
<rect x="1387.50" y="123.50" width="231.00" height="1074.90" fill="none" stroke="#000" stroke-width="1.1"/>
<line x1="1381.50" y1="1198.40" x2="1387.50" y2="1198.40" stroke="#000" stroke-width="2.0" />
<line x1="1618.50" y1="1198.40" x2="1624.50" y2="1198.40" stroke="#000" stroke-width="2.0" />
<line x1="1381.50" y1="983.42" x2="1387.50" y2="983.42" stroke="#000" stroke-width="2.0" />
<line x1="1618.50" y1="983.42" x2="1624.50" y2="983.42" stroke="#000" stroke-width="2.0" />
<line x1="1381.50" y1="768.44" x2="1387.50" y2="768.44" stroke="#000" stroke-width="2.0" />
<line x1="1618.50" y1="768.44" x2="1624.50" y2="768.44" stroke="#000" stroke-width="2.0" />
<line x1="1381.50" y1="553.46" x2="1387.50" y2="553.46" stroke="#000" stroke-width="2.0" />
<line x1="1618.50" y1="553.46" x2="1624.50" y2="553.46" stroke="#000" stroke-width="2.0" />
<line x1="1381.50" y1="338.48" x2="1387.50" y2="338.48" stroke="#000" stroke-width="2.0" />
<line x1="1618.50" y1="338.48" x2="1624.50" y2="338.48" stroke="#000" stroke-width="2.0" />
<line x1="1381.50" y1="123.50" x2="1387.50" y2="123.50" stroke="#000" stroke-width="2.0" />
<line x1="1618.50" y1="123.50" x2="1624.50" y2="123.50" stroke="#000" stroke-width="2.0" />
<line x1="1387.40" y1="1198.40" x2="1387.40" y2="1204.40" stroke="#000" stroke-width="2.0" />
<line x1="1387.40" y1="117.50" x2="1387.40" y2="123.50" stroke="#000" stroke-width="2.0" />
<line x1="1464.40" y1="1198.40" x2="1464.40" y2="1204.40" stroke="#000" stroke-width="2.0" />
<line x1="1464.40" y1="117.50" x2="1464.40" y2="123.50" stroke="#000" stroke-width="2.0" />
<line x1="1541.40" y1="1198.40" x2="1541.40" y2="1204.40" stroke="#000" stroke-width="2.0" />
<line x1="1541.40" y1="117.50" x2="1541.40" y2="123.50" stroke="#000" stroke-width="2.0" />
<line x1="1618.40" y1="1198.40" x2="1618.40" y2="1204.40" stroke="#000" stroke-width="2.0" />
<line x1="1618.40" y1="117.50" x2="1618.40" y2="123.50" stroke="#000" stroke-width="2.0" />
<text x="1378.20" y="1204.40" text-anchor="end" font-family='"Liberation Serif", serif' font-size="18.67" textLength="10.61" lengthAdjust="spacingAndGlyphs" fill="#000" style="" >0</text>
<text x="1378.20" y="989.42" text-anchor="end" font-family='"Liberation Serif", serif' font-size="18.67" textLength="10.61" lengthAdjust="spacingAndGlyphs" fill="#000" style="" >1</text>
<text x="1378.20" y="774.44" text-anchor="end" font-family='"Liberation Serif", serif' font-size="18.67" textLength="10.61" lengthAdjust="spacingAndGlyphs" fill="#000" style="" >2</text>
<text x="1378.20" y="559.46" text-anchor="end" font-family='"Liberation Serif", serif' font-size="18.67" textLength="10.61" lengthAdjust="spacingAndGlyphs" fill="#000" style="" >3</text>
<text x="1378.20" y="344.48" text-anchor="end" font-family='"Liberation Serif", serif' font-size="18.67" textLength="10.61" lengthAdjust="spacingAndGlyphs" fill="#000" style="" >4</text>
<text x="1378.20" y="129.50" text-anchor="end" font-family='"Liberation Serif", serif' font-size="18.67" textLength="10.61" lengthAdjust="spacingAndGlyphs" fill="#000" style="" >5</text>
<text x="1387.40" y="1219.60" text-anchor="middle" font-family='"Liberation Serif", serif' font-size="18.67" textLength="26.51" lengthAdjust="spacingAndGlyphs" fill="#000" style="" >0.0</text>
<text x="1464.40" y="1219.60" text-anchor="middle" font-family='"Liberation Serif", serif' font-size="18.67" textLength="26.51" lengthAdjust="spacingAndGlyphs" fill="#000" style="" >0.1</text>
<text x="1541.40" y="1219.60" text-anchor="middle" font-family='"Liberation Serif", serif' font-size="18.67" textLength="26.51" lengthAdjust="spacingAndGlyphs" fill="#000" style="" >0.2</text>
<text x="1618.40" y="1219.60" text-anchor="middle" font-family='"Liberation Serif", serif' font-size="18.67" textLength="26.51" lengthAdjust="spacingAndGlyphs" fill="#000" style="" >0.3</text>
<rect x="1700.50" y="123.50" width="232.00" height="1074.90" fill="none" stroke="#000" stroke-width="1.1"/>
<line x1="1694.50" y1="1198.40" x2="1700.50" y2="1198.40" stroke="#000" stroke-width="2.0" />
<line x1="1932.50" y1="1198.40" x2="1938.50" y2="1198.40" stroke="#000" stroke-width="2.0" />
<line x1="1694.50" y1="983.42" x2="1700.50" y2="983.42" stroke="#000" stroke-width="2.0" />
<line x1="1932.50" y1="983.42" x2="1938.50" y2="983.42" stroke="#000" stroke-width="2.0" />
<line x1="1694.50" y1="768.44" x2="1700.50" y2="768.44" stroke="#000" stroke-width="2.0" />
<line x1="1932.50" y1="768.44" x2="1938.50" y2="768.44" stroke="#000" stroke-width="2.0" />
<line x1="1694.50" y1="553.46" x2="1700.50" y2="553.46" stroke="#000" stroke-width="2.0" />
<line x1="1932.50" y1="553.46" x2="1938.50" y2="553.46" stroke="#000" stroke-width="2.0" />
<line x1="1694.50" y1="338.48" x2="1700.50" y2="338.48" stroke="#000" stroke-width="2.0" />
<line x1="1932.50" y1="338.48" x2="1938.50" y2="338.48" stroke="#000" stroke-width="2.0" />
<line x1="1694.50" y1="123.50" x2="1700.50" y2="123.50" stroke="#000" stroke-width="2.0" />
<line x1="1932.50" y1="123.50" x2="1938.50" y2="123.50" stroke="#000" stroke-width="2.0" />
<line x1="1700.30" y1="1198.40" x2="1700.30" y2="1204.40" stroke="#000" stroke-width="2.0" />
<line x1="1793.10" y1="1198.40" x2="1793.10" y2="1204.40" stroke="#000" stroke-width="2.0" />
<line x1="1885.90" y1="1198.40" x2="1885.90" y2="1204.40" stroke="#000" stroke-width="2.0" />
<line x1="1700.30" y1="117.50" x2="1700.30" y2="123.50" stroke="#000" stroke-width="2.0" />
<line x1="1758.30" y1="117.50" x2="1758.30" y2="123.50" stroke="#000" stroke-width="2.0" />
<line x1="1816.30" y1="117.50" x2="1816.30" y2="123.50" stroke="#000" stroke-width="2.0" />
<line x1="1874.30" y1="117.50" x2="1874.30" y2="123.50" stroke="#000" stroke-width="2.0" />
<line x1="1932.30" y1="117.50" x2="1932.30" y2="123.50" stroke="#000" stroke-width="2.0" />
<text x="1691.20" y="1204.40" text-anchor="end" font-family='"Liberation Serif", serif' font-size="18.67" textLength="10.61" lengthAdjust="spacingAndGlyphs" fill="#000" style="" >0</text>
<text x="1691.20" y="989.42" text-anchor="end" font-family='"Liberation Serif", serif' font-size="18.67" textLength="10.61" lengthAdjust="spacingAndGlyphs" fill="#000" style="" >1</text>
<text x="1691.20" y="774.44" text-anchor="end" font-family='"Liberation Serif", serif' font-size="18.67" textLength="10.61" lengthAdjust="spacingAndGlyphs" fill="#000" style="" >2</text>
<text x="1691.20" y="559.46" text-anchor="end" font-family='"Liberation Serif", serif' font-size="18.67" textLength="10.61" lengthAdjust="spacingAndGlyphs" fill="#000" style="" >3</text>
<text x="1691.20" y="344.48" text-anchor="end" font-family='"Liberation Serif", serif' font-size="18.67" textLength="10.61" lengthAdjust="spacingAndGlyphs" fill="#000" style="" >4</text>
<text x="1691.20" y="129.50" text-anchor="end" font-family='"Liberation Serif", serif' font-size="18.67" textLength="10.61" lengthAdjust="spacingAndGlyphs" fill="#000" style="" >5</text>
<text x="1700.30" y="1219.60" text-anchor="middle" font-family='"Liberation Serif", serif' font-size="18.67" textLength="10.61" lengthAdjust="spacingAndGlyphs" fill="#000" style="" >0</text>
<text x="1793.10" y="1219.60" text-anchor="middle" font-family='"Liberation Serif", serif' font-size="18.67" textLength="21.21" lengthAdjust="spacingAndGlyphs" fill="#000" style="" >20</text>
<text x="1885.90" y="1219.60" text-anchor="middle" font-family='"Liberation Serif", serif' font-size="18.67" textLength="21.21" lengthAdjust="spacingAndGlyphs" fill="#000" style="" >40</text>
<text x="1700.30" y="109.50" text-anchor="middle" font-family='"Liberation Serif", serif' font-size="18.67" textLength="10.61" lengthAdjust="spacingAndGlyphs" fill="#000" style="" >0</text>
<text x="1758.30" y="109.50" text-anchor="middle" font-family='"Liberation Serif", serif' font-size="18.67" textLength="21.21" lengthAdjust="spacingAndGlyphs" fill="#000" style="" >25</text>
<text x="1816.30" y="109.50" text-anchor="middle" font-family='"Liberation Serif", serif' font-size="18.67" textLength="21.21" lengthAdjust="spacingAndGlyphs" fill="#000" style="" >50</text>
<text x="1874.30" y="109.50" text-anchor="middle" font-family='"Liberation Serif", serif' font-size="18.67" textLength="21.21" lengthAdjust="spacingAndGlyphs" fill="#000" style="" >75</text>
<text x="1932.30" y="109.50" text-anchor="middle" font-family='"Liberation Serif", serif' font-size="18.67" textLength="31.82" lengthAdjust="spacingAndGlyphs" fill="#000" style="" >100</text>
<text x="1816.20" y="93.00" text-anchor="middle" font-family='"Liberation Serif", serif' font-size="22.46" textLength="175.27" lengthAdjust="spacingAndGlyphs" fill="#000" style="" >Rel.Humidity [%]</text>
<g transform="translate(102.9,661.5) rotate(-90)">
<text x="0.00" y="0.00" text-anchor="middle" font-family='"Liberation Serif", serif' font-size="22.46" textLength="122.75" lengthAdjust="spacingAndGlyphs" fill="#000" style="" >Height [km]</text>
</g>
<text x="113.91" y="1248.30" text-anchor="start" font-family='"Liberation Serif", serif' font-size="22.46" textLength="194.00" lengthAdjust="spacingAndGlyphs" fill="#000" style="" xml:space="preserve">Backsc. coeff. [Msr</text>
<text x="307.91" y="1240.80" text-anchor="start" font-family='"Liberation Serif", serif' font-size="15.72" textLength="20.69" lengthAdjust="spacingAndGlyphs" fill="#000" style="" xml:space="preserve">−1</text>
<text x="328.60" y="1248.30" text-anchor="start" font-family='"Liberation Serif", serif' font-size="22.46" textLength="25.39" lengthAdjust="spacingAndGlyphs" fill="#000" style="" xml:space="preserve"> m</text>
<text x="353.98" y="1240.80" text-anchor="start" font-family='"Liberation Serif", serif' font-size="15.72" textLength="20.69" lengthAdjust="spacingAndGlyphs" fill="#000" style="" xml:space="preserve">−1</text>
<text x="374.67" y="1248.30" text-anchor="start" font-family='"Liberation Serif", serif' font-size="22.46" textLength="7.82" lengthAdjust="spacingAndGlyphs" fill="#000" style="" xml:space="preserve">]</text>
<text x="450.46" y="1248.00" text-anchor="start" font-family='"Liberation Serif", serif' font-size="22.46" textLength="194.17" lengthAdjust="spacingAndGlyphs" fill="#000" style="" xml:space="preserve">Extinct. coeff. [Mm</text>
<text x="644.63" y="1240.50" text-anchor="start" font-family='"Liberation Serif", serif' font-size="15.72" textLength="20.69" lengthAdjust="spacingAndGlyphs" fill="#000" style="" xml:space="preserve">−1</text>
<text x="665.32" y="1248.00" text-anchor="start" font-family='"Liberation Serif", serif' font-size="22.46" textLength="7.82" lengthAdjust="spacingAndGlyphs" fill="#000" style="" xml:space="preserve">]</text>
<text x="875.20" y="1243.90" text-anchor="middle" font-family='"Liberation Serif", serif' font-size="22.46" textLength="153.89" lengthAdjust="spacingAndGlyphs" fill="#000" style="" >Lidar ratio [Sr]</text>
<text x="1114.20" y="1249.20" text-anchor="start" font-family='"Liberation Sans", sans-serif' font-size="20.05" textLength="13.72" lengthAdjust="spacingAndGlyphs" fill="#000" style="font-style:italic;" xml:space="preserve">Å</text>
<text x="1127.91" y="1249.20" text-anchor="start" font-family='"Liberation Serif", serif' font-size="22.46" textLength="136.29" lengthAdjust="spacingAndGlyphs" fill="#000" style="" xml:space="preserve">ngström Exp.</text>
<text x="1502.20" y="1243.60" text-anchor="middle" font-family='"Liberation Serif", serif' font-size="22.46" textLength="120.09" lengthAdjust="spacingAndGlyphs" fill="#000" style="" >Depol. ratio</text>
<text x="1731.74" y="1247.60" text-anchor="start" font-family='"Liberation Serif", serif' font-size="22.46" textLength="82.79" lengthAdjust="spacingAndGlyphs" fill="#000" style="" xml:space="preserve">WVMR [</text>
<text x="1814.52" y="1247.60" text-anchor="start" font-family='"Liberation Sans", sans-serif' font-size="20.05" textLength="12.41" lengthAdjust="spacingAndGlyphs" fill="#000" style="font-style:italic;" xml:space="preserve">g</text>
<text x="1833.15" y="1248.40" text-anchor="start" font-family='"Liberation Sans", sans-serif' font-size="20.05" textLength="9.77" lengthAdjust="spacingAndGlyphs" fill="#000" style="" xml:space="preserve">*</text>
<text x="1849.13" y="1247.60" text-anchor="start" font-family='"Liberation Sans", sans-serif' font-size="20.05" textLength="23.73" lengthAdjust="spacingAndGlyphs" fill="#000" style="font-style:italic;" xml:space="preserve">kg</text>
<text x="1872.86" y="1240.10" text-anchor="start" font-family='"Liberation Sans", sans-serif' font-size="14.04" textLength="20.17" lengthAdjust="spacingAndGlyphs" fill="#000" style="" xml:space="preserve">−1</text>
<text x="1893.04" y="1247.60" text-anchor="start" font-family='"Liberation Serif", serif' font-size="22.46" textLength="7.63" lengthAdjust="spacingAndGlyphs" fill="#000" style="" xml:space="preserve">]</text>
<rect x="580.00" y="230.90" width="93.80" height="62.60" fill="#eff1f5" />
<rect x="142.80" y="131.70" width="213.50" height="227.00" rx="3" ry="3" fill="#fff" fill-opacity="0.8" stroke="#cccccc" stroke-width="1"/>
<line x1="147.40" y1="144.90" x2="180.10" y2="144.90" stroke="#0000ff" stroke-width="1.8" />
<text x="192.40" y="150.50" text-anchor="start" font-family='"Liberation Serif", serif' font-size="17.11" textLength="147.38" lengthAdjust="spacingAndGlyphs" fill="#000" style="" >aerBsc_raman_355</text>
<line x1="147.40" y1="169.77" x2="180.10" y2="169.77" stroke="#008000" stroke-width="1.8" />
<text x="192.40" y="175.37" text-anchor="start" font-family='"Liberation Serif", serif' font-size="17.11" textLength="147.38" lengthAdjust="spacingAndGlyphs" fill="#000" style="" >aerBsc_raman_532</text>
<line x1="147.40" y1="194.64" x2="180.10" y2="194.64" stroke="#ff0000" stroke-width="1.8" />
<text x="192.40" y="200.24" text-anchor="start" font-family='"Liberation Serif", serif' font-size="17.11" textLength="157.11" lengthAdjust="spacingAndGlyphs" fill="#000" style="" >aerBsc_raman_1064</text>
<line x1="148.00" y1="219.51" x2="179.10" y2="219.51" stroke="#800080" stroke-width="1.8" stroke-dasharray="6,2.95"/>
<text x="192.40" y="225.11" text-anchor="start" font-family='"Liberation Serif", serif' font-size="17.11" textLength="120.54" lengthAdjust="spacingAndGlyphs" fill="#000" style="" >aerBsc_RR_355</text>
<line x1="148.00" y1="244.38" x2="179.10" y2="244.38" stroke="#808000" stroke-width="1.8" stroke-dasharray="6,2.95"/>
<text x="192.40" y="249.98" text-anchor="start" font-family='"Liberation Serif", serif' font-size="17.11" textLength="120.54" lengthAdjust="spacingAndGlyphs" fill="#000" style="" >aerBsc_RR_532</text>
<line x1="148.00" y1="269.25" x2="179.10" y2="269.25" stroke="#ffa07a" stroke-width="1.8" stroke-dasharray="6,2.95"/>
<text x="192.40" y="274.85" text-anchor="start" font-family='"Liberation Serif", serif' font-size="17.11" textLength="130.26" lengthAdjust="spacingAndGlyphs" fill="#000" style="" >aerBsc_RR_1064</text>
<line x1="147.40" y1="294.12" x2="180.10" y2="294.12" stroke="#00ffff" stroke-width="1.8" />
<text x="192.40" y="299.72" text-anchor="start" font-family='"Liberation Serif", serif' font-size="17.11" textLength="133.00" lengthAdjust="spacingAndGlyphs" fill="#000" style="" >aerBsc_klett_355</text>
<line x1="147.40" y1="318.99" x2="180.10" y2="318.99" stroke="#00ff00" stroke-width="1.8" />
<text x="192.40" y="324.59" text-anchor="start" font-family='"Liberation Serif", serif' font-size="17.11" textLength="133.00" lengthAdjust="spacingAndGlyphs" fill="#000" style="" >aerBsc_klett_532</text>
<line x1="147.40" y1="343.86" x2="180.10" y2="343.86" stroke="#fa8072" stroke-width="1.8" />
<text x="192.40" y="349.46" text-anchor="start" font-family='"Liberation Serif", serif' font-size="17.11" textLength="142.72" lengthAdjust="spacingAndGlyphs" fill="#000" style="" >aerBsc_klett_1064</text>
<rect x="429.40" y="131.70" width="240.90" height="227.60" rx="3" ry="3" fill="#fff" fill-opacity="0.8" stroke="#cccccc" stroke-width="1"/>
<line x1="434.00" y1="144.90" x2="466.70" y2="144.90" stroke="#0000ff" stroke-width="1.8" />
<text x="479.00" y="150.50" text-anchor="start" font-family='"Liberation Serif", serif' font-size="17.11" textLength="145.67" lengthAdjust="spacingAndGlyphs" fill="#000" style="" >aerExt_raman_355</text>
<line x1="434.00" y1="169.77" x2="466.70" y2="169.77" stroke="#008000" stroke-width="1.8" />
<text x="479.00" y="175.37" text-anchor="start" font-family='"Liberation Serif", serif' font-size="17.11" textLength="145.67" lengthAdjust="spacingAndGlyphs" fill="#000" style="" >aerExt_raman_532</text>
<line x1="434.00" y1="194.64" x2="466.70" y2="194.64" stroke="#ff0000" stroke-width="1.8" />
<text x="479.00" y="200.24" text-anchor="start" font-family='"Liberation Serif", serif' font-size="17.11" textLength="155.39" lengthAdjust="spacingAndGlyphs" fill="#000" style="" >aerExt_raman_1064</text>
<line x1="434.60" y1="219.51" x2="465.70" y2="219.51" stroke="#800080" stroke-width="1.8" stroke-dasharray="6,2.95"/>
<text x="479.00" y="225.11" text-anchor="start" font-family='"Liberation Serif", serif' font-size="17.11" textLength="118.82" lengthAdjust="spacingAndGlyphs" fill="#000" style="" >aerExt_RR_355</text>
<line x1="434.60" y1="244.38" x2="465.70" y2="244.38" stroke="#808000" stroke-width="1.8" stroke-dasharray="6,2.95"/>
<text x="479.00" y="249.98" text-anchor="start" font-family='"Liberation Serif", serif' font-size="17.11" textLength="118.82" lengthAdjust="spacingAndGlyphs" fill="#000" style="" >aerExt_RR_532</text>
<line x1="434.60" y1="269.25" x2="465.70" y2="269.25" stroke="#ffa07a" stroke-width="1.8" stroke-dasharray="6,2.95"/>
<text x="479.00" y="274.85" text-anchor="start" font-family='"Liberation Serif", serif' font-size="17.11" textLength="128.55" lengthAdjust="spacingAndGlyphs" fill="#000" style="" >aerExt_RR_1064</text>
<line x1="434.00" y1="294.12" x2="466.70" y2="294.12" stroke="#00ffff" stroke-width="1.8" />
<text x="479.00" y="299.72" text-anchor="start" font-family='"Liberation Serif", serif' font-size="17.11" textLength="172.98" lengthAdjust="spacingAndGlyphs" fill="#000" style="" >aerBsc_klett_355 x LR</text>
<line x1="434.00" y1="318.99" x2="466.70" y2="318.99" stroke="#00ff00" stroke-width="1.8" />
<text x="479.00" y="324.59" text-anchor="start" font-family='"Liberation Serif", serif' font-size="17.11" textLength="172.98" lengthAdjust="spacingAndGlyphs" fill="#000" style="" >aerBsc_klett_532 x LR</text>
<line x1="434.00" y1="343.86" x2="466.70" y2="343.86" stroke="#fa8072" stroke-width="1.8" />
<text x="479.00" y="349.46" text-anchor="start" font-family='"Liberation Serif", serif' font-size="17.11" textLength="182.70" lengthAdjust="spacingAndGlyphs" fill="#000" style="" >aerBsc_klett_1064 x LR</text>
<rect x="775.50" y="131.60" width="207.70" height="153.80" rx="3" ry="3" fill="#fff" fill-opacity="0.8" stroke="#cccccc" stroke-width="1"/>
<line x1="780.10" y1="144.80" x2="812.80" y2="144.80" stroke="#0000ff" stroke-width="1.8" />
<text x="825.10" y="150.40" text-anchor="start" font-family='"Liberation Serif", serif' font-size="17.11" textLength="141.41" lengthAdjust="spacingAndGlyphs" fill="#000" style="" >aerLR_raman_355</text>
<line x1="780.10" y1="169.67" x2="812.80" y2="169.67" stroke="#008000" stroke-width="1.8" />
<text x="825.10" y="175.27" text-anchor="start" font-family='"Liberation Serif", serif' font-size="17.11" textLength="141.41" lengthAdjust="spacingAndGlyphs" fill="#000" style="" >aerLR_raman_532</text>
<line x1="780.10" y1="194.54" x2="812.80" y2="194.54" stroke="#ff0000" stroke-width="1.8" />
<text x="825.10" y="200.14" text-anchor="start" font-family='"Liberation Serif", serif' font-size="17.11" textLength="151.13" lengthAdjust="spacingAndGlyphs" fill="#000" style="" >aerLR_raman_1064</text>
<line x1="780.70" y1="219.41" x2="811.80" y2="219.41" stroke="#800080" stroke-width="1.8" stroke-dasharray="6,2.95"/>
<text x="825.10" y="225.01" text-anchor="start" font-family='"Liberation Serif", serif' font-size="17.11" textLength="114.56" lengthAdjust="spacingAndGlyphs" fill="#000" style="" >aerLR_RR_355</text>
<line x1="780.70" y1="244.28" x2="811.80" y2="244.28" stroke="#808000" stroke-width="1.8" stroke-dasharray="6,2.95"/>
<text x="825.10" y="249.88" text-anchor="start" font-family='"Liberation Serif", serif' font-size="17.11" textLength="114.56" lengthAdjust="spacingAndGlyphs" fill="#000" style="" >aerLR_RR_532</text>
<line x1="780.70" y1="269.15" x2="811.80" y2="269.15" stroke="#ffa07a" stroke-width="1.8" stroke-dasharray="6,2.95"/>
<text x="825.10" y="274.75" text-anchor="start" font-family='"Liberation Serif", serif' font-size="17.11" textLength="124.28" lengthAdjust="spacingAndGlyphs" fill="#000" style="" >aerLR_RR_1064</text>
<rect x="1021.70" y="131.30" width="275.50" height="79.10" rx="3" ry="3" fill="#fff" fill-opacity="0.8" stroke="#cccccc" stroke-width="1"/>
<line x1="1026.30" y1="144.50" x2="1059.00" y2="144.50" stroke="#ffa500" stroke-width="1.8" />
<text x="1071.30" y="150.10" text-anchor="start" font-family='"Liberation Serif", serif' font-size="17.11" textLength="199.56" lengthAdjust="spacingAndGlyphs" fill="#000" style="" >AE_beta_355_532_Raman</text>
<line x1="1026.30" y1="169.37" x2="1059.00" y2="169.37" stroke="#ff00ff" stroke-width="1.8" />
<text x="1071.30" y="174.97" text-anchor="start" font-family='"Liberation Serif", serif' font-size="17.11" textLength="209.28" lengthAdjust="spacingAndGlyphs" fill="#000" style="" >AE_beta_532_1064_Raman</text>
<line x1="1026.30" y1="194.24" x2="1059.00" y2="194.24" stroke="#000000" stroke-width="1.8" />
<text x="1071.30" y="199.84" text-anchor="start" font-family='"Liberation Serif", serif' font-size="17.11" textLength="217.59" lengthAdjust="spacingAndGlyphs" fill="#000" style="" >AE_parExt_355_532_Raman</text>
<rect x="1378.50" y="131.70" width="232.90" height="152.90" rx="3" ry="3" fill="#fff" fill-opacity="0.8" stroke="#cccccc" stroke-width="1"/>
<line x1="1383.10" y1="144.90" x2="1415.80" y2="144.90" stroke="#0000ff" stroke-width="1.8" />
<text x="1428.10" y="150.50" text-anchor="start" font-family='"Liberation Serif", serif' font-size="17.11" textLength="165.66" lengthAdjust="spacingAndGlyphs" fill="#000" style="" >parDepol_raman_355</text>
<line x1="1383.10" y1="169.77" x2="1415.80" y2="169.77" stroke="#008000" stroke-width="1.8" />
<text x="1428.10" y="175.37" text-anchor="start" font-family='"Liberation Serif", serif' font-size="17.11" textLength="165.66" lengthAdjust="spacingAndGlyphs" fill="#000" style="" >parDepol_raman_532</text>
<line x1="1383.10" y1="194.64" x2="1415.80" y2="194.64" stroke="#ff0000" stroke-width="1.8" />
<text x="1428.10" y="200.24" text-anchor="start" font-family='"Liberation Serif", serif' font-size="17.11" textLength="175.38" lengthAdjust="spacingAndGlyphs" fill="#000" style="" >parDepol_raman_1064</text>
<line x1="1383.10" y1="219.51" x2="1415.80" y2="219.51" stroke="#00ffff" stroke-width="1.8" />
<text x="1428.10" y="225.11" text-anchor="start" font-family='"Liberation Serif", serif' font-size="17.11" textLength="151.27" lengthAdjust="spacingAndGlyphs" fill="#000" style="" >parDepol_klett_355</text>
<line x1="1383.10" y1="244.38" x2="1415.80" y2="244.38" stroke="#00ff00" stroke-width="1.8" />
<text x="1428.10" y="249.98" text-anchor="start" font-family='"Liberation Serif", serif' font-size="17.11" textLength="151.27" lengthAdjust="spacingAndGlyphs" fill="#000" style="" >parDepol_klett_532</text>
<line x1="1383.10" y1="269.25" x2="1415.80" y2="269.25" stroke="#fa8072" stroke-width="1.8" />
<text x="1428.10" y="274.85" text-anchor="start" font-family='"Liberation Serif", serif' font-size="17.11" textLength="160.99" lengthAdjust="spacingAndGlyphs" fill="#000" style="" >parDepol_klett_1064</text>
<rect x="1814.20" y="131.70" width="110.20" height="30.00" rx="3" ry="3" fill="#fff" fill-opacity="0.8" stroke="#cccccc" stroke-width="1"/>
<line x1="1818.80" y1="144.90" x2="1851.50" y2="144.90" stroke="#0000ff" stroke-width="1.8" />
<text x="1863.80" y="150.50" text-anchor="start" font-family='"Liberation Serif", serif' font-size="17.11" textLength="53.89" lengthAdjust="spacingAndGlyphs" fill="#000" style="" >WVMR</text>
<rect x="1820.50" y="185.20" width="81.00" height="29.00" rx="3" ry="3" fill="#fff" fill-opacity="0.8" stroke="#cccccc" stroke-width="1"/>
<line x1="1825.10" y1="198.40" x2="1857.80" y2="198.40" stroke="#008000" stroke-width="1.8" />
<text x="1870.10" y="204.00" text-anchor="start" font-family='"Liberation Serif", serif' font-size="17.11" textLength="24.83" lengthAdjust="spacingAndGlyphs" fill="#000" style="" >RH</text>
<text x="586.20" y="246.85" text-anchor="start" font-family='"Liberation Serif", serif' font-size="14.78" textLength="16.83" lengthAdjust="spacingAndGlyphs" fill="#c4c4c4" style="" >LR</text>
<text x="603.03" y="248.85" text-anchor="start" font-family='"Liberation Sans", sans-serif' font-size="9.24" textLength="15.86" lengthAdjust="spacingAndGlyphs" fill="#c4c4c4" style="" >355</text>
<text x="618.89" y="246.85" text-anchor="start" font-family='"Liberation Serif", serif' font-size="14.78" textLength="41.76" lengthAdjust="spacingAndGlyphs" fill="#c4c4c4" style="" xml:space="preserve">: 50.00</text>
<text x="586.20" y="264.70" text-anchor="start" font-family='"Liberation Serif", serif' font-size="14.78" textLength="16.83" lengthAdjust="spacingAndGlyphs" fill="#c4c4c4" style="" >LR</text>
<text x="603.03" y="266.70" text-anchor="start" font-family='"Liberation Sans", sans-serif' font-size="9.24" textLength="15.86" lengthAdjust="spacingAndGlyphs" fill="#c4c4c4" style="" >532</text>
<text x="618.89" y="264.70" text-anchor="start" font-family='"Liberation Serif", serif' font-size="14.78" textLength="41.76" lengthAdjust="spacingAndGlyphs" fill="#c4c4c4" style="" xml:space="preserve">: 50.00</text>
<text x="586.20" y="283.70" text-anchor="start" font-family='"Liberation Serif", serif' font-size="14.78" textLength="16.83" lengthAdjust="spacingAndGlyphs" fill="#c4c4c4" style="" >LR</text>
<text x="603.03" y="285.70" text-anchor="start" font-family='"Liberation Sans", sans-serif' font-size="9.24" textLength="21.15" lengthAdjust="spacingAndGlyphs" fill="#c4c4c4" style="" >1064</text>
<text x="624.18" y="283.70" text-anchor="start" font-family='"Liberation Serif", serif' font-size="14.78" textLength="41.76" lengthAdjust="spacingAndGlyphs" fill="#c4c4c4" style="" xml:space="preserve">: 50.00</text>
<rect x="1485.80" y="329.40" width="97.00" height="73.10" fill="#eff1f5" fill-opacity="0.85"/>
<text x="1492.60" y="348.80" text-anchor="start" font-family='"Liberation Sans", sans-serif' font-size="15.28" textLength="9.68" lengthAdjust="spacingAndGlyphs" fill="#000" style="font-style:italic;" >η</text>
<text x="1502.28" y="351.00" text-anchor="start" font-family='"Liberation Sans", sans-serif' font-size="10.70" textLength="20.42" lengthAdjust="spacingAndGlyphs" fill="#000" style="" >355</text>
<text x="1522.71" y="348.80" text-anchor="start" font-family='"Liberation Serif", serif' font-size="17.11" textLength="53.75" lengthAdjust="spacingAndGlyphs" fill="#000" style="" xml:space="preserve">: 29.18</text>
<text x="1492.60" y="371.80" text-anchor="start" font-family='"Liberation Sans", sans-serif' font-size="15.28" textLength="9.68" lengthAdjust="spacingAndGlyphs" fill="#000" style="font-style:italic;" >η</text>
<text x="1502.28" y="374.00" text-anchor="start" font-family='"Liberation Sans", sans-serif' font-size="10.70" textLength="20.42" lengthAdjust="spacingAndGlyphs" fill="#000" style="" >532</text>
<text x="1522.71" y="371.80" text-anchor="start" font-family='"Liberation Serif", serif' font-size="17.11" textLength="53.75" lengthAdjust="spacingAndGlyphs" fill="#000" style="" xml:space="preserve">: 17.25</text>
<text x="1492.60" y="391.80" text-anchor="start" font-family='"Liberation Sans", sans-serif' font-size="15.28" textLength="9.68" lengthAdjust="spacingAndGlyphs" fill="#000" style="font-style:italic;" >η</text>
<text x="1502.28" y="394.00" text-anchor="start" font-family='"Liberation Sans", sans-serif' font-size="10.70" textLength="27.23" lengthAdjust="spacingAndGlyphs" fill="#000" style="" >1064</text>
<text x="1529.52" y="391.80" text-anchor="start" font-family='"Liberation Serif", serif' font-size="17.11" textLength="38.80" lengthAdjust="spacingAndGlyphs" fill="#000" style="" xml:space="preserve">: nan</text>
<rect x="195.00" y="1276.00" width="199.90" height="65.80" fill="#eff1f5" />
<text x="200.20" y="1294.85" text-anchor="start" font-family='"Liberation Serif", serif' font-size="17.11" textLength="177.80" lengthAdjust="spacingAndGlyphs" fill="#000" style="" >ref.H_355: nan-nan km</text>
<text x="200.20" y="1314.25" text-anchor="start" font-family='"Liberation Serif", serif' font-size="17.11" textLength="177.80" lengthAdjust="spacingAndGlyphs" fill="#000" style="" >ref.H_532: nan-nan km</text>
<text x="200.20" y="1333.65" text-anchor="start" font-family='"Liberation Serif", serif' font-size="17.11" textLength="187.52" lengthAdjust="spacingAndGlyphs" fill="#000" style="" >ref.H_1064: nan-nan km</text>
<rect x="1695.00" y="1274.00" width="175.00" height="27.60" fill="#eff1f5" />
<text x="1700.40" y="1292.00" text-anchor="start" font-family='"Liberation Serif", serif' font-size="17.11" textLength="163.04" lengthAdjust="spacingAndGlyphs" fill="#000" style="" >WV-calib.const.: 42.0</text>
<text x="1001.30" y="1327.80" text-anchor="start" font-family='"Liberation Serif", serif' font-size="14.78" textLength="87.06" lengthAdjust="spacingAndGlyphs" fill="#ff2020" style="font-weight:bold;" >Preliminary</text>
<text x="1001.30" y="1342.80" text-anchor="start" font-family='"Liberation Serif", serif' font-size="14.78" textLength="59.54" lengthAdjust="spacingAndGlyphs" fill="#ff2020" style="font-weight:bold;" >Results.</text>
<text x="1500.40" y="1332.00" text-anchor="start" font-family='"Liberation Serif", serif' font-size="12.43" textLength="149.88" lengthAdjust="spacingAndGlyphs" fill="#000" style="font-weight:bold;" >© TROPOS &amp; FMI 2026.</text>
<text x="1500.40" y="1344.00" text-anchor="start" font-family='"Liberation Serif", serif' font-size="12.43" textLength="137.27" lengthAdjust="spacingAndGlyphs" fill="#000" style="font-weight:bold;" >CC BY SA 4.0 License.</text>
<clipPath id="ccclip"><rect x="663.2" y="1298.9" width="153.6" height="52.0"/></clipPath>
<g>
<path d="M662.2,1351.8 L662.2,1299.4 Q662.2,1297.2 664.4,1297.2 L815.6,1297.2 Q817.8,1297.2 817.8,1299.4 L817.8,1351.8 Z" fill="#333333"/>
<rect x="663.4" y="1298.4" width="153.2" height="37.8" rx="1.5" fill="#b9bfba"/>
<g clip-path="url(#ccclip)"><circle cx="689.0" cy="1322.7" r="24.8" fill="#b9bfba"/></g>
<circle cx="689.0" cy="1322.7" r="20.0" fill="#333333"/>
<circle cx="689.0" cy="1322.7" r="16.6" fill="#fff"/>
<text x="689.0" y="1328.8" text-anchor="middle" font-family='"Liberation Sans", sans-serif' font-weight="bold" font-size="23" textLength="23.5" lengthAdjust="spacingAndGlyphs" fill="#333333">cc</text>
<circle cx="744.2" cy="1316.3" r="14.9" fill="#333333"/>
<circle cx="744.2" cy="1316.3" r="11.9" fill="#fff"/>
<circle cx="744.2" cy="1308.7" r="1.9" fill="#333333"/>
<rect x="740.4" y="1312.2" width="7.7" height="6.4" fill="#333333"/>
<rect x="742.1" y="1317.6" width="4.2" height="8.2" fill="#333333"/>
<circle cx="781.2" cy="1316.3" r="14.9" fill="#333333"/>
<circle cx="781.2" cy="1316.3" r="11.9" fill="#fff"/>
<path d="M 776.6 1314.0 A 5.3 5.3 0 1 1 776.6 1318.8" fill="none" stroke="#333333" stroke-width="3.4"/>
<path d="M 773.2 1311.8 L 779.6 1312.4 L 775.6 1317.4 Z" fill="#333333"/>
<text x="743.4" y="1348.6" text-anchor="middle" font-family='"Liberation Sans", sans-serif' font-weight="bold" font-size="11.9" textLength="15.3" lengthAdjust="spacingAndGlyphs" fill="#fff">BY</text>
<text x="780.0" y="1348.6" text-anchor="middle" font-family='"Liberation Sans", sans-serif' font-weight="bold" font-size="11.9" textLength="15.3" lengthAdjust="spacingAndGlyphs" fill="#fff">SA</text>
</g>
</svg>
</body></html>
